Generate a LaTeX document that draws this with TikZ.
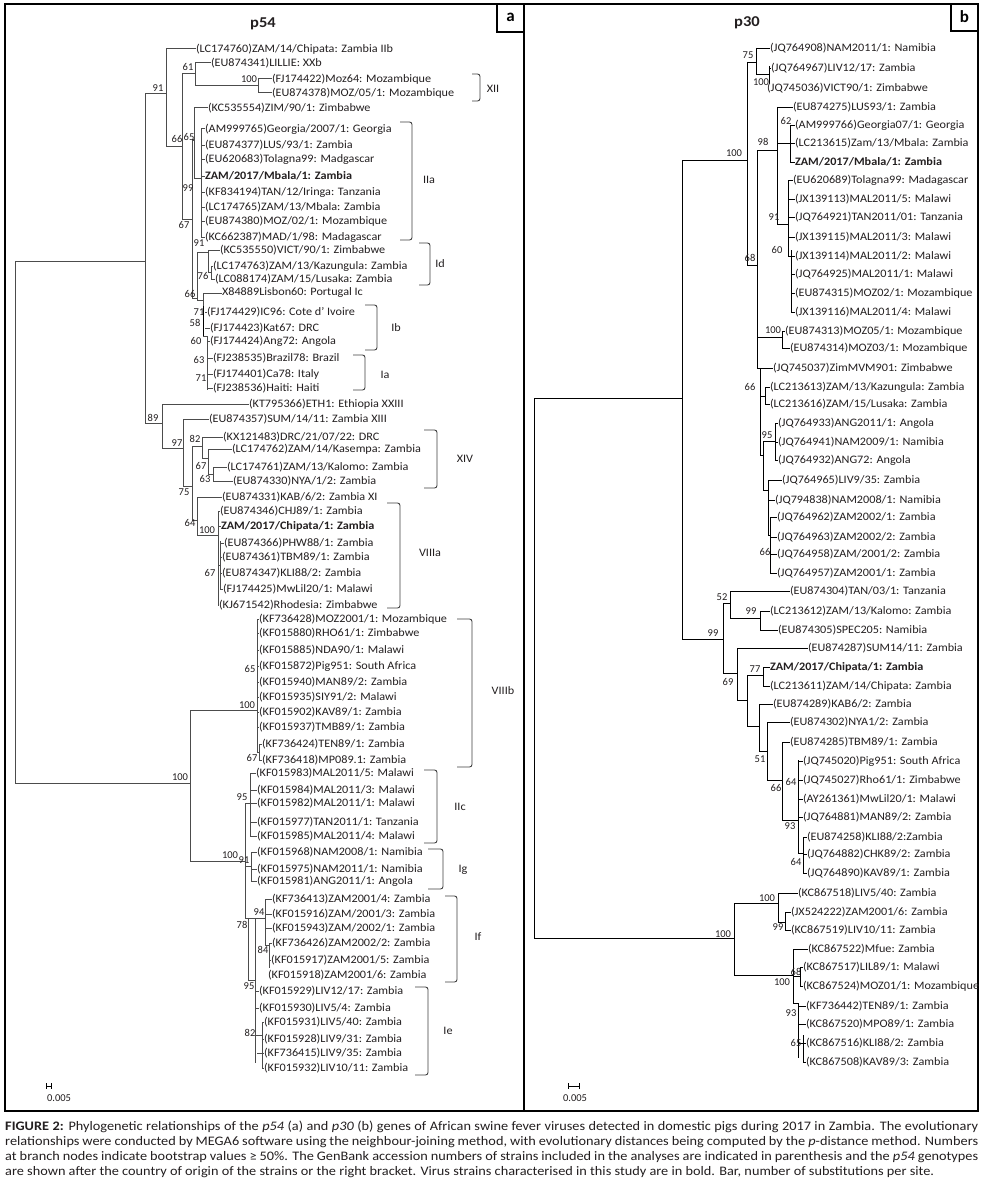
\documentclass[tikz,border=0pt]{standalone}
\usepackage{fontspec}
\setmainfont{Carlito}
\definecolor{txt}{RGB}{35,31,32}
\newcommand\vbr[3]{\draw[br] (#1,#2) -- (#1,#3);}
\newcommand\hbr[3]{\draw[br] (#2,#1) -- (#3,#1);}
\newcommand\bsval[3]{\node[bsl] at (#1,#2) {#3};}
\newcommand\mkleaf[5]{\node[leaf] (#1) at (#3,#4) {\scalebox{1.07}[1]{#5}}; \draw[br] (#2,#4) -- (#1.west);}
\newcommand\clade[8]{\draw[brk] (#5,#3) -- (#2,#3) -- (#2,#4) -- (#5,#4); \node[clab] (#1) at (#6,#7) {\scalebox{1.07}[1]{#8}};}
\begin{document}
\begin{tikzpicture}[x=1pt,y=-1pt,
  leaf/.style={anchor=west,inner sep=0pt,outer sep=0pt,text=txt,font=\fontsize{11.4}{13}\selectfont},
  bsl/.style={inner sep=0pt,text=txt,font=\fontsize{10.5}{12}\selectfont},
  clab/.style={inner sep=0pt,text=txt,font=\fontsize{11.4}{13}\selectfont},
  brk/.style={draw=black!75,line width=0.9pt,rounded corners=2.5pt},
  br/.style={draw=black,line width=0.9pt},
  frame/.style={draw=black,line width=1.2pt},
  captxt/.style={anchor=west,inner sep=0pt,text=txt,font=\fontsize{13}{15}\selectfont},
  ttl/.style={inner sep=0pt,text=txt,font=\bfseries\fontsize{15}{15}\selectfont},
  plab/.style={inner sep=0pt,text=black,font=\bfseries\fontsize{17}{17}\selectfont}]
\useasboundingbox (0,0) rectangle (986,1188);
\fill[white] (0,0) rectangle (986,1188);
% frames
\draw[frame] (5,4) rectangle (978,1111);
\draw[frame] (524,4) -- (524,1111);
\draw[frame] (497,4) rectangle (524,32);
\node[plab] (la) at (510.5,17) {a};
\draw[frame] (951,4) rectangle (978,31);
\node[plab] (lb) at (964.5,17) {b};
\node[ttl] (t54) at (263,24) {\scalebox{1.1}[1]{p54}};
\node[ttl] (t30) at (747,23) {\scalebox{1.1}[1]{p30}};

% ================= panel a =================
\begin{scope}[br/.style={draw=black!70,line width=1pt}]
\vbr{15}{261}{783}
\hbr{261}{15}{145}
\hbr{783}{15}{190}
\bsval{180}{777}{100}
\vbr{145}{94}{423}
\hbr{94}{145}{166} \bsval{158}{88}{91}
\hbr{423}{145}{162} \bsval{153}{418}{89}
\vbr{166}{49}{146}
\mkleaf{a1}{166}{196}{49}{(LC174760)ZAM/14/Chipata: Zambia IIb}
\hbr{146}{166}{182} \bsval{177}{139}{66}
\vbr{182}{74}{219}
\hbr{74}{182}{195} \bsval{188}{67}{61}
\vbr{195}{63}{86}
\mkleaf{a2}{195}{211}{63}{(EU874341)LILLIE: XXb}
\hbr{86}{195}{258} \bsval{249}{79}{100}
\vbr{258}{79}{93}
\mkleaf{a3}{258}{272}{79}{(FJ174422)Moz64: Mozambique}
\mkleaf{a4}{258}{272}{93}{(EU874378)MOZ/05/1: Mozambique}
\hbr{219}{182}{192} \bsval{184}{225}{67}
\vbr{192}{140}{298}
\hbr{140}{192}{194} \bsval{189}{137}{65}
\vbr{194}{108}{178}
\mkleaf{a5}{194}{208}{108}{(KC535554)ZIM/90/1: Zimbabwe}
\hbr{178}{194}{201} \bsval{188}{188}{99}
\vbr{201}{129}{237}
\mkleaf{a6}{201}{205}{129}{(AM999765)Georgia/2007/1: Georgia}
\mkleaf{a7}{201}{205}{145}{(EU874377)LUS/93/1: Zambia}
\mkleaf{a8}{201}{205}{159}{(EU620683)Tolagna99: Madgascar}
\mkleaf{a9}{201}{205}{176}{\textbf{ZAM/2017/Mbala/1: Zambia}}
\mkleaf{a10}{201}{205}{192}{(KF834194)TAN/12/Iringa: Tanzania}
\mkleaf{a11}{201}{205}{207}{(LC174765)ZAM/13/Mbala: Zambia}
\mkleaf{a12}{201}{205}{221}{(EU874380)MOZ/02/1: Mozambique}
\mkleaf{a13}{201}{205}{237}{(KC662387)MAD/1/98: Madagascar}
\hbr{298}{192}{197} \bsval{190}{294}{66}
\vbr{197}{252}{300}
\hbr{252}{197}{208} \bsval{199}{243}{91}
\vbr{208}{250}{272}
\mkleaf{a14}{208}{220}{250}{(KC535550)VICT/90/1: Zimbabwe}
\hbr{272}{208}{211} \bsval{203}{276}{76}
\vbr{211}{266}{279}
\mkleaf{a15}{211}{213}{266}{(LC174763)ZAM/13/Kazungula: Zambia}
\mkleaf{a16}{211}{215}{279}{(LC088174)ZAM/15/Lusaka: Zambia}
\hbr{300}{197}{203}
\vbr{203}{293}{308}
\mkleaf{a17}{203}{222}{293}{X84889Lisbon60: Portugal Ic}
\bsval{199}{312}{71}
\mkleaf{a18}{205}{207}{312}{(FJ174429)IC96: Cote d' Ivoire}
\draw[draw=black,line width=1.8pt] (203.5,306) -- (203.5,336);
\bsval{195}{323}{58}
\mkleaf{a19}{205}{210}{328}{(FJ174423)Kat67: DRC}
\hbr{336}{203}{207}
\vbr{207}{336}{390}
\bsval{196}{341}{60}
\mkleaf{a20}{207}{210}{341}{(FJ174424)Ang72: Angola}
\bsval{199}{360}{63}
\mkleaf{a21}{207}{213}{358}{(FJ238535)Brazil78: Brazil}
\bsval{201}{378}{71}
\mkleaf{a22}{207}{213}{374}{(FJ174401)Ca78: Italy}
\mkleaf{a23}{207}{213}{388}{(FJ238536)Haiti: Haiti}
% lower upper clade
\vbr{162}{404}{448}
\mkleaf{a24}{162}{249}{404}{(KT795366)ETH1: Ethiopia XXIII}
\hbr{448}{162}{183} \bsval{177}{443}{97}
\vbr{183}{419}{486}
\mkleaf{a25}{183}{209}{419}{(EU874357)SUM/14/11: Zambia XIII}
\hbr{486}{183}{192} \bsval{184}{492}{75}
\vbr{192}{446}{520}
\hbr{446}{192}{202} \bsval{195}{439}{82}
\vbr{202}{437}{458}
\mkleaf{a26}{202}{223}{437}{(KX121483)DRC/21/07/22: DRC}
\hbr{458}{202}{208} \bsval{201}{466}{67}
\vbr{208}{449}{474}
\mkleaf{a27}{208}{232}{449}{(LC174762)ZAM/14/Kasempa: Zambia}
\hbr{474}{208}{213} \bsval{205}{479}{63}
\vbr{213}{467}{481}
\mkleaf{a28}{213}{227}{467}{(LC174761)ZAM/13/Kalomo: Zambia}
\mkleaf{a29}{213}{233}{481}{(EU874330)NYA/1/2: Zambia}
\hbr{520}{192}{197} \bsval{190}{523}{64}
\vbr{197}{497}{535}
\mkleaf{a30}{197}{222}{497}{(EU874331)KAB/6/2: Zambia XI}
\hbr{535}{197}{218} \bsval{207}{530}{100}
\vbr{218}{511}{605}
\mkleaf{a31}{218}{220}{511}{(EU874346)CHJ89/1: Zambia}
\mkleaf{a32}{218}{221}{526}{\textbf{ZAM/2017/Chipata/1: Zambia}}
\hbr{565}{218}{220}
\vbr{220}{541}{589}
\mkleaf{a33}{220}{224}{543}{(EU874366)PHW88/1: Zambia}
\mkleaf{a34}{220}{222}{557}{(EU874361)TBM89/1: Zambia}
\mkleaf{a35}{220}{222}{573}{(EU874347)KLI88/2: Zambia}
\bsval{210}{573}{67}
\mkleaf{a36}{220}{223}{589}{(FJ174425)MwLil20/1: Malawi}
\mkleaf{a37}{218}{219}{605}{(KJ671542)Rhodesia: Zimbabwe}
% lower root clade
\vbr{190}{710}{861}
\hbr{710}{190}{257} \bsval{247}{705}{100}
\vbr{257}{619}{752}
\mkleaf{a38}{257}{259}{619}{(KF736428)MOZ2001/1: Mozambique}
\mkleaf{a39}{257}{259}{633}{(KF015880)RHO61/1: Zimbabwe}
\mkleaf{a40}{257}{259}{650}{(KF015885)NDA90/1: Malawi}
\mkleaf{a41}{257}{259}{666}{(KF015872)Pig951: South Africa}
\bsval{250}{669}{65}
\mkleaf{a42}{257}{259}{682}{(KF015940)MAN89/2: Zambia}
\mkleaf{a43}{257}{259}{697}{(KF015935)SIY91/2: Malawi}
\mkleaf{a44}{257}{259}{712}{(KF015902)KAV89/1: Zambia}
\mkleaf{a45}{257}{259}{727}{(KF015937)TMB89/1: Zambia}
\hbr{752}{257}{259}
\vbr{259}{744}{760}
\mkleaf{a46}{259}{262}{744}{(KF736424)TEN89/1: Zambia}
\mkleaf{a47}{259}{262}{760}{(KF736418)MP089.1: Zambia}
\bsval{252}{758}{67}
\hbr{861}{190}{245} \bsval{230}{855}{100}
\vbr{245}{803}{918}
\hbr{803}{245}{250} \bsval{242}{797}{95}
\vbr{250}{773}{836}
\mkleaf{a48}{250}{256}{773}{(KF015983)MAL2011/5: Malawi}
\mkleaf{a49}{250}{257}{790}{(KF015984)MAL2011/3: Malawi}
\mkleaf{a50}{250}{257}{803}{(KF015982)MAL2011/1: Malawi}
\mkleaf{a51}{250}{257}{822}{(KF015977)TAN2011/1: Tanzania}
\mkleaf{a52}{250}{257}{836}{(KF015985)MAL2011/4: Malawi}
\hbr{866}{245}{251} \bsval{244}{860}{91}
\vbr{251}{852}{881}
\mkleaf{a53}{251}{257}{852}{(KF015968)NAM2008/1: Namibia}
\mkleaf{a54}{251}{257}{869}{(KF015975)NAM2011/1: Namibia}
\mkleaf{a55}{251}{257}{881}{(KF015981)ANG2011/1: Angola}
\hbr{918}{245}{265} \bsval{259}{912}{94}
\bsval{242}{925}{78}
\vbr{265}{899}{945}
\mkleaf{a56}{265}{272}{899}{(KF736413)ZAM2001/4: Zambia}
\mkleaf{a57}{265}{272}{914}{(KF015916)ZAM/2001/3: Zambia}
\mkleaf{a58}{265}{272}{928}{(KF015943)ZAM/2002/1: Zambia}
\hbr{945}{265}{269} \bsval{263}{950}{84}
\vbr{269}{943}{968}
\mkleaf{a59}{269}{272}{943}{(KF736426)ZAM2002/2: Zambia}
\mkleaf{a60}{269}{271}{960}{(KF015917)ZAM2001/5: Zambia}
\mkleaf{a61}{268}{268}{975}{(KF015918)ZAM2001/6: Zambia}
\vbr{248}{918}{980}
\hbr{980}{248}{255} \bsval{249}{986}{95}
\vbr{255}{918}{1063}
\mkleaf{a62}{255}{259}{991}{(KF015929)LIV12/17: Zambia}
\mkleaf{a63}{255}{259}{1008}{(KF015930)LIV5/4: Zambia}
\hbr{1035}{255}{262} \bsval{250}{1033}{82}
\vbr{262}{1022}{1068}
\mkleaf{a64}{262}{264}{1022}{(KF015931)LIV5/40: Zambia}
\mkleaf{a65}{262}{264}{1039}{(KF015928)LIV9/31: Zambia}
\mkleaf{a66}{257}{264}{1053}{(KF736415)LIV9/35: Zambia}
\mkleaf{a67}{262}{264}{1068}{(KF015932)LIV10/11: Zambia}
\end{scope}
% clade brackets panel a
\clade{cXII}{480}{74}{101}{472}{493}{89}{XII}
\clade{cIIa}{412}{122}{240}{400}{429}{180}{IIa}
\clade{cId}{430}{243}{285}{419}{440}{264}{Id}
\clade{cIb}{377}{305}{350}{365}{396}{328}{Ib}
\clade{cIa}{365}{355}{390}{353}{385}{375}{Ia}
\clade{cXIV}{437}{430}{488}{424}{465}{459}{XIV}
\clade{cVIIIa}{400}{503}{608}{387}{430}{553}{VIIIa}
\clade{cVIIIb}{472}{619}{767}{457}{503}{691}{VIIIb}
\clade{cIIc}{437}{770}{843}{424}{460}{807}{IIc}
\clade{cIg}{443}{849}{889}{428}{463}{870}{Ig}
\clade{cIf}{457}{896}{982}{445}{478}{937}{If}
\clade{cIe}{428}{987}{1075}{415}{448}{1031}{Ie}

% ================= panel b =================
\vbr{534}{398}{938}
\hbr{398}{534}{682}
\hbr{938}{534}{734}
\vbr{682}{160}{639}
\hbr{160}{682}{747} \bsval{734}{153}{100}
\hbr{639}{682}{723} \bsval{713}{633}{99}
\vbr{747}{62}{265}
\hbr{62}{747}{756} \bsval{748}{55}{75}
\vbr{756}{48}{74}
\mkleaf{b1}{756}{770}{48}{(JQ764908)NAM2011/1: Namibia}
\hbr{74}{756}{769} \bsval{761}{82}{100}
\vbr{769}{66}{84}
\mkleaf{b2}{769}{771}{68}{(JQ764967)LIV12/17: Zambia}
\mkleaf{b3}{767}{767}{88}{(JQ745036)VICT90/1: Zimbabwe}
\hbr{265}{747}{757} \bsval{750}{258}{68}
\vbr{757}{150}{368}
\hbr{150}{757}{777} \bsval{763}{142}{98}
\vbr{777}{107}{224}
\mkleaf{b4}{777}{793}{107}{(EU874275)LUS93/1: Zambia}
\hbr{143}{777}{790} \bsval{786}{121}{62}
\vbr{790}{125}{162}
\mkleaf{b5}{790}{795}{125}{(AM999766)Georgia07/1: Georgia}
\mkleaf{b6}{790}{795}{143}{(LC213615)Zam/13/Mbala: Zambia}
\mkleaf{b7}{790}{795}{162}{\textbf{ZAM/2017/Mbala/1: Zambia}}
\hbr{224}{777}{788} \bsval{774}{217}{91}
\vbr{788}{180}{256}
\mkleaf{b8}{788}{793}{180}{(EU620689)Tolagna99: Madagascar}
\mkleaf{b9}{788}{795}{199}{(JX139113)MAL2011/5: Malawi}
\mkleaf{b10}{788}{795}{217}{(JQ764921)TAN2011/01: Tanzania}
\mkleaf{b11}{788}{795}{237}{(JX139115)MAL2011/3: Malawi}
\hbr{256}{788}{791} \bsval{777}{250}{60}
\vbr{791}{250}{312}
\mkleaf{b12}{791}{795}{256}{(JX139114)MAL2011/2: Malawi}
\mkleaf{b13}{791}{795}{274}{(JQ764925)MAL2011/1: Malawi}
\mkleaf{b14}{791}{795}{293}{(EU874315)MOZ02/1: Mozambique}
\mkleaf{b15}{791}{795}{312}{(JX139116)MAL2011/4: Malawi}
\hbr{337}{757}{782} \bsval{773}{330}{100}
\vbr{782}{331}{348}
\mkleaf{b16}{782}{785}{331}{(EU874313)MOZ05/1: Mozambique}
\mkleaf{b17}{782}{790}{348}{(EU874314)MOZ03/1: Mozambique}
\hbr{368}{757}{760} \bsval{750}{387}{66}
\vbr{760}{368}{455}
\mkleaf{b18}{760}{773}{368}{(JQ745037)ZimMVM901: Zimbabwe}
\hbr{396}{760}{765}
\vbr{765}{387}{404}
\mkleaf{b19}{765}{770}{387}{(LC213613)ZAM/13/Kazungula: Zambia}
\mkleaf{b20}{765}{770}{404}{(LC213616)ZAM/15/Lusaka: Zambia}
\hbr{455}{760}{763}
\vbr{763}{441}{490}
\hbr{441}{763}{775} \bsval{767}{435}{95}
\vbr{775}{423}{460}
\mkleaf{b21}{775}{778}{423}{(JQ764933)ANG2011/1: Angola}
\mkleaf{b22}{775}{778}{442}{(JQ764941)NAM2009/1: Namibia}
\mkleaf{b23}{775}{778}{460}{(JQ764932)ANG72: Angola}
\hbr{490}{763}{768}
\vbr{768}{480}{535}
\mkleaf{b24}{768}{782}{480}{(JQ764965)LIV9/35: Zambia}
\mkleaf{b25}{768}{775}{500}{(JQ794838)NAM2008/1: Namibia}
\hbr{535}{768}{770} \bsval{765}{552}{66}
\vbr{770}{517}{573}
\mkleaf{b26}{770}{777}{517}{(JQ764962)ZAM2002/1: Zambia}
\mkleaf{b27}{770}{777}{537}{(JQ764963)ZAM2002/2: Zambia}
\mkleaf{b28}{770}{777}{554}{(JQ764958)ZAM/2001/2: Zambia}
\mkleaf{b29}{770}{777}{573}{(JQ764957)ZAM2001/1: Zambia}
% 99 clade
\vbr{723}{603}{673}
\hbr{603}{723}{730} \bsval{722}{597}{52}
\vbr{730}{591}{618}
\mkleaf{b30}{730}{790}{591}{(EU874304)TAN/03/1: Tanzania}
\hbr{618}{730}{760} \bsval{751}{611}{99}
\vbr{760}{611}{630}
\mkleaf{b31}{760}{770}{611}{(LC213612)ZAM/13/Kalomo: Zambia}
\mkleaf{b32}{760}{778}{630}{(EU874305)SPEC205: Namibia}
\hbr{673}{723}{737} \bsval{728}{682}{69}
\vbr{737}{648}{700}
\mkleaf{b33}{737}{808}{648}{(EU874287)SUM14/11: Zambia}
\hbr{700}{737}{747}
\vbr{747}{675}{726}
\hbr{675}{747}{763} \bsval{755}{669}{77}
\vbr{763}{667}{686}
\mkleaf{b34}{763}{770}{667}{\textbf{ZAM/2017/Chipata/1: Zambia}}
\mkleaf{b35}{763}{770}{686}{(LC213611)ZAM/14/Chipata: Zambia}
\hbr{726}{747}{759}
\vbr{759}{704}{751} \bsval{760}{759}{51}
\mkleaf{b36}{759}{773}{704}{(EU874289)KAB6/2: Zambia}
\hbr{751}{759}{767}
\vbr{767}{722}{780}
\mkleaf{b37}{767}{790}{722}{(EU874302)NYA1/2: Zambia}
\hbr{780}{767}{782} \bsval{776}{788}{66}
\vbr{782}{742}{820}
\mkleaf{b38}{782}{790}{742}{(EU874285)TBM89/1: Zambia}
\hbr{820}{782}{798} \bsval{790}{826}{93}
\vbr{798}{760}{853}
\bsval{791}{782}{64}
\mkleaf{b39}{798}{803}{761}{(JQ745020)Pig951: South Africa}
\mkleaf{b40}{798}{803}{780}{(JQ745027)Rho61/1: Zimbabwe}
\mkleaf{b41}{798}{803}{799}{(AY261361)MwLil20/1: Malawi}
\mkleaf{b42}{798}{803}{817}{(JQ764881)MAN89/2: Zambia}
\hbr{853}{798}{803} \bsval{796}{862}{64}
\vbr{803}{837}{873}
\mkleaf{b43}{803}{807}{837}{(EU874258)KLI88/2:Zambia}
\mkleaf{b44}{803}{807}{854}{(JQ764882)CHK89/2: Zambia}
\mkleaf{b45}{803}{807}{873}{(JQ764890)KAV89/1: Zambia}
% bottom clade
\vbr{734}{903}{975} \bsval{723}{934}{100}
\hbr{903}{734}{778} \bsval{767}{898}{100}
\vbr{778}{893}{922}
\mkleaf{b46}{778}{798}{893}{(KC867518)LIV5/40: Zambia}
\hbr{922}{778}{785} \bsval{778}{927}{99}
\vbr{785}{912}{930}
\mkleaf{b47}{785}{791}{912}{(JX524222)ZAM2001/6: Zambia}
\mkleaf{b48}{785}{791}{930}{(KC867519)LIV10/11: Zambia}
\hbr{975}{734}{793} \bsval{782}{982}{100}
\vbr{793}{949}{1003}
\mkleaf{b49}{793}{808}{949}{(KC867522)Mfue: Zambia}
\hbr{976}{793}{800} \bsval{796}{972}{68}
\vbr{800}{967}{986}
\mkleaf{b50}{800}{803}{967}{(KC867517)LIL89/1: Malawi}
\mkleaf{b51}{800}{803}{986}{(KC867524)MOZ01/1: Mozambique}
\hbr{1003}{793}{798} \bsval{791}{1013}{93}
\vbr{798}{1003}{1058}
\mkleaf{b52}{798}{806}{1006}{(KF736442)TEN89/1: Zambia}
\mkleaf{b53}{798}{806}{1024}{(KC867520)MPO89/1: Zambia}
\hbr{1043}{798}{803} \bsval{796}{1043}{65}
\vbr{803}{1035}{1062}
\mkleaf{b54}{803}{806}{1043}{(KC867516)KLI88/2: Zambia}
\mkleaf{b55}{803}{806}{1062}{(KC867508)KAV89/3: Zambia}

% scale bars
\draw[br] (46,1086) -- (51,1086); \draw[br] (46,1083) -- (46,1089); \draw[br] (51,1083) -- (51,1089);
\node[bsl] (sa) at (59,1098) {0.005};
\draw[br] (568,1086) -- (579,1086); \draw[br] (568,1083) -- (568,1089); \draw[br] (579,1083) -- (579,1089);
\node[bsl] (sb) at (575,1098) {0.005};

% caption
\node[captxt] (cap1) at (5,1127) {\scalebox{1.10}[1]{\makebox[884.5pt][s]{\textbf{FIGURE 2:} Phylogenetic relationships of the \textit{p54} (a) and \textit{p30} (b) genes of African swine fever viruses detected in domestic pigs during 2017 in Zambia. The evolutionary}}};
\node[captxt] (cap2) at (5,1142) {\scalebox{1.10}[1]{\makebox[884.5pt][s]{relationships were conducted by MEGA6 software using the neighbour-joining method, with evolutionary distances being computed by the \textit{p}-distance method. Numbers}}};
\node[captxt] (cap3) at (5,1157) {\scalebox{1.10}[1]{\makebox[884.5pt][s]{at branch nodes indicate bootstrap values ≥ 50\%. The GenBank accession numbers of strains included in the analyses are indicated in parenthesis and the \textit{p54} genotypes}}};
\node[captxt] (cap4) at (5,1172) {\scalebox{1.10}[1]{are shown after the country of origin of the strains or the right bracket. Virus strains characterised in this study are in bold. Bar, number of substitutions per site.}};
\end{tikzpicture}
\end{document}
